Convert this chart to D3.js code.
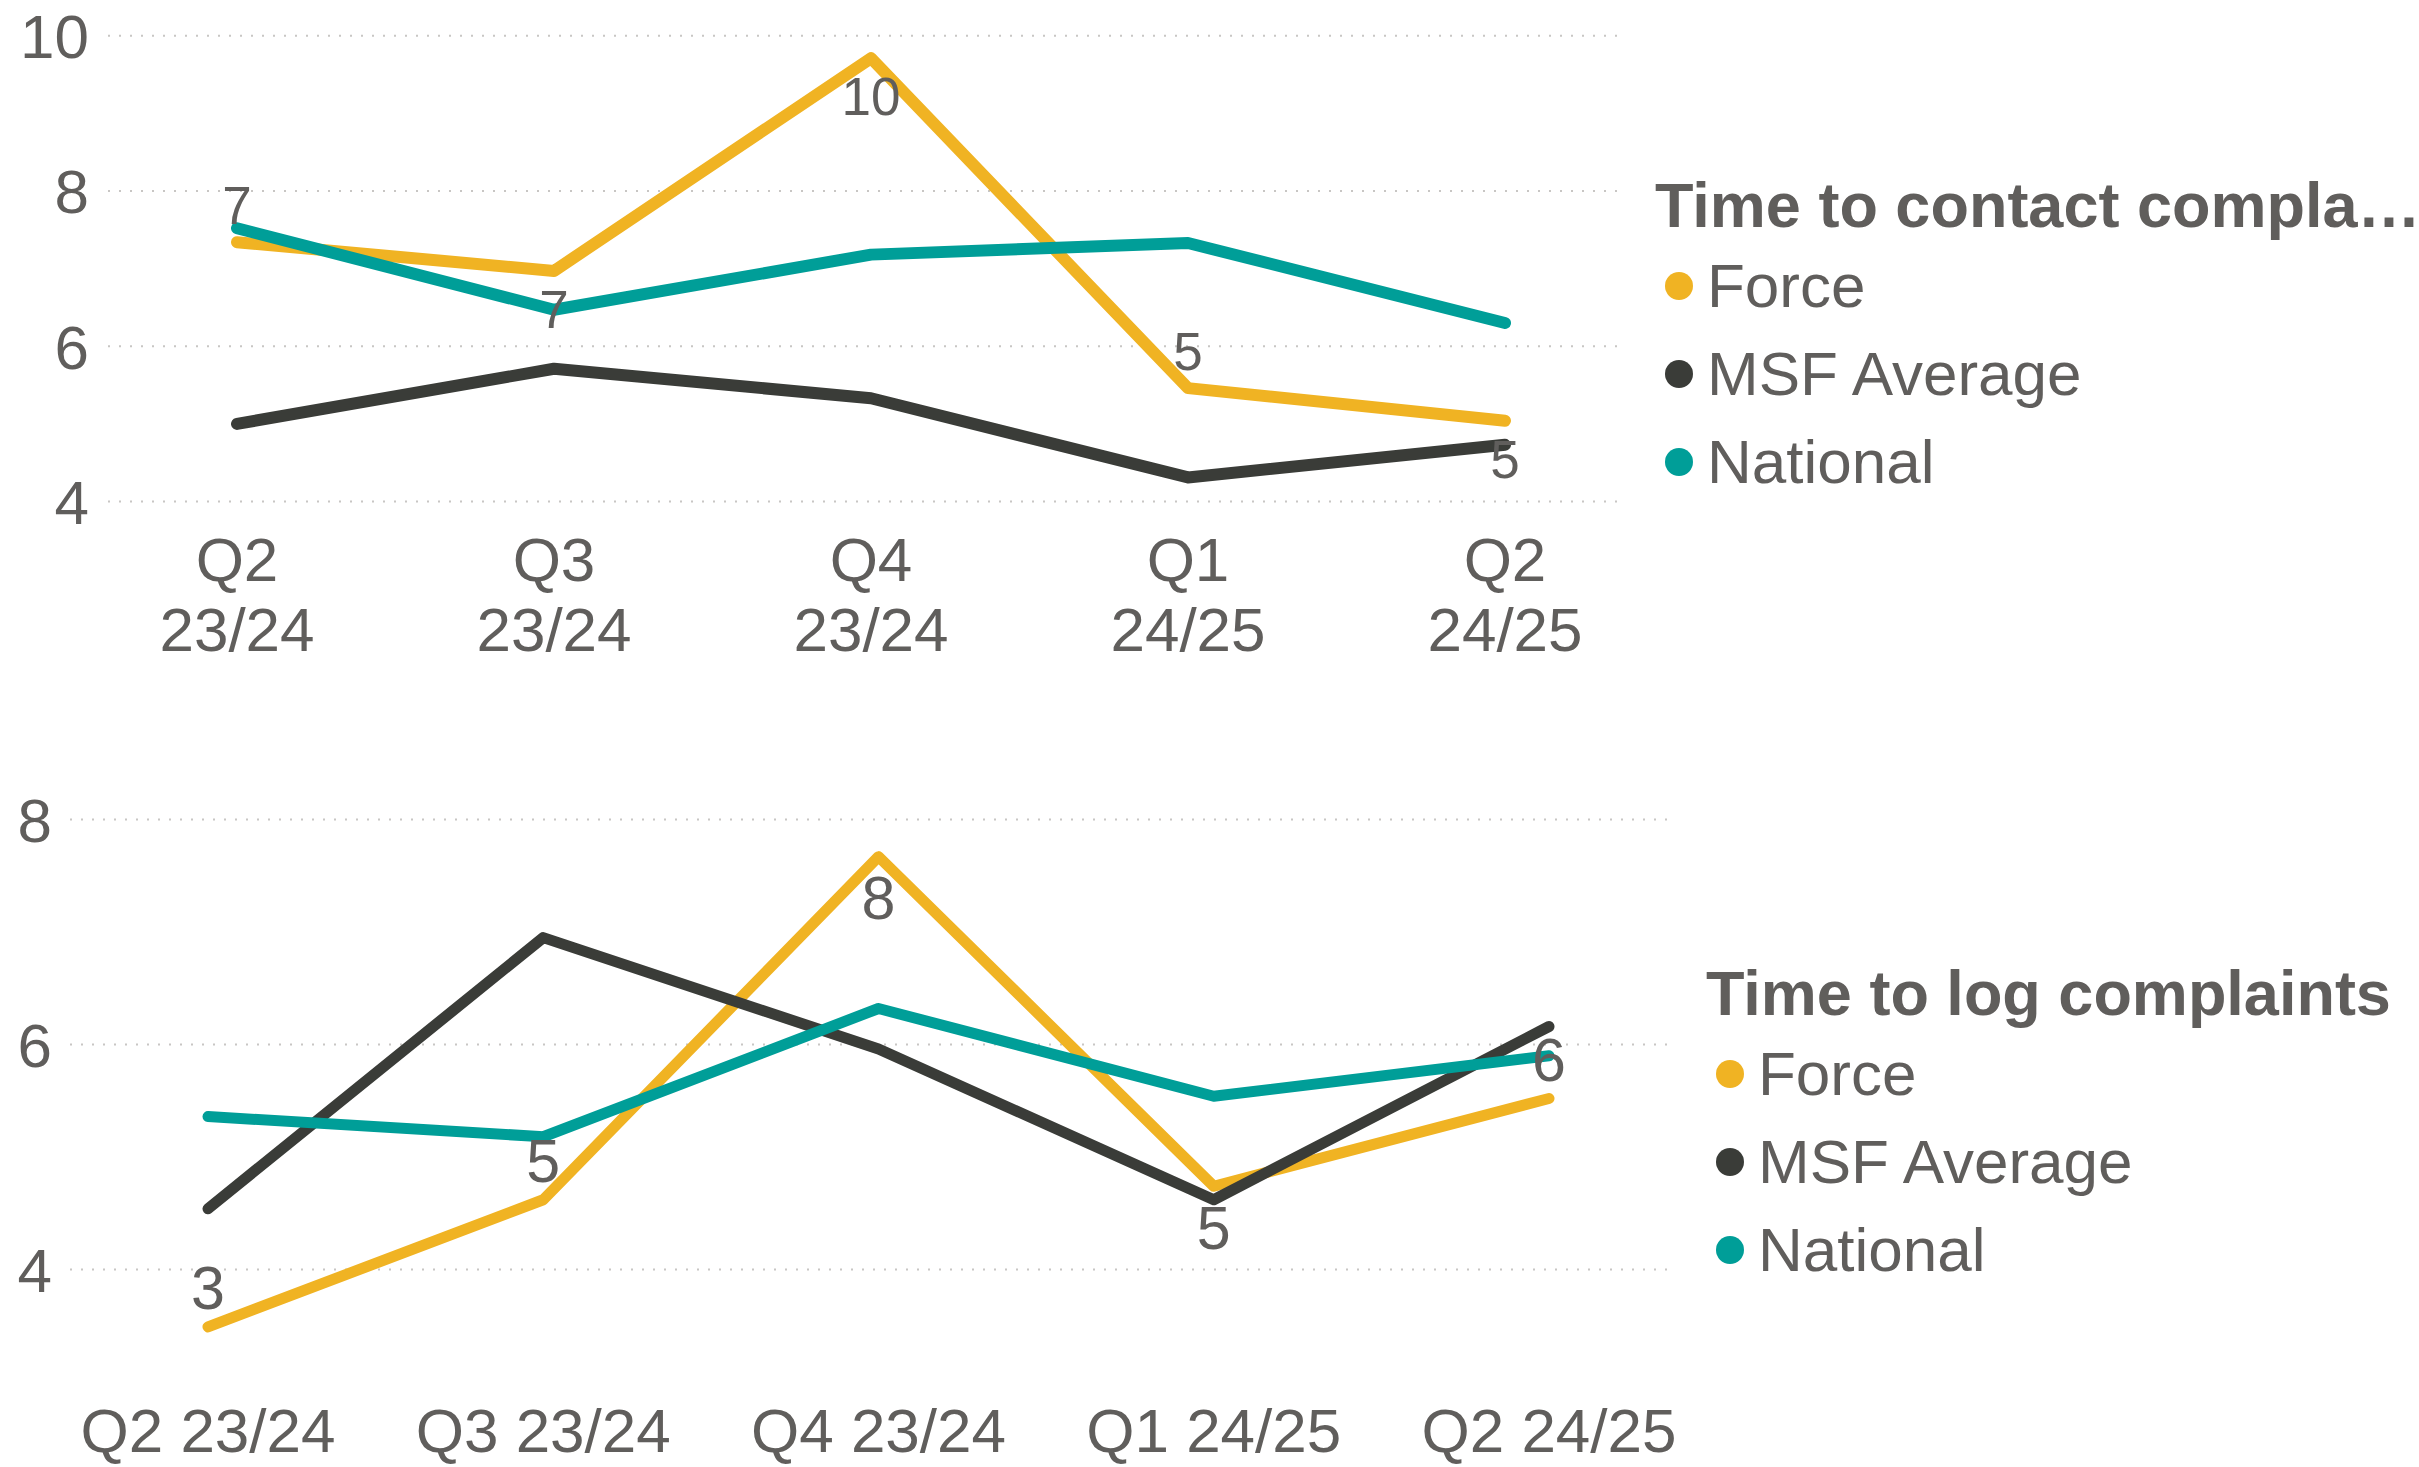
<!DOCTYPE html>
<html>
<head>
<meta charset="utf-8">
<script src="https://cdn.jsdelivr.net/npm/d3@7"></script>
<style>
  body { margin: 0; background: #ffffff; }
  svg { display: block; font-family: "Liberation Sans", Arial, sans-serif; }
  .tick-label { fill: #605e5c; font-size: 62px; }
  .data-label { fill: #605e5c; }
  .legend-title { fill: #605e5c; font-size: 63px; font-weight: bold; }
  .legend-item { fill: #605e5c; font-size: 62px; }
  .grid { stroke: #c8c6c4; stroke-width: 2; stroke-dasharray: 2,9; }
</style>
</head>
<body>
<div id="chart"></div>
<script>
// quarters on the x axis
var quarters = ["Q2 23/24", "Q3 23/24", "Q4 23/24", "Q1 24/25", "Q2 24/25"];
var seriesNames = ["Force", "MSF Average", "National"];
var seriesColors = ["#f0b323", "#3a3c38", "#009e98"];

// Time to contact complainants (days)
var contactForce = [7.34, 6.97, 9.71, 5.46, 5.04];
var contactMsf = [5.00, 5.71, 5.33, 4.31, 4.73];
var contactNational = [7.52, 6.47, 7.18, 7.33, 6.30];
var contactTicks = [4, 6, 8, 10];
var contactLabelSide = ["above", "below", "below", "above", "below"];

// Time to log complaints (days)
var logForce = [3.49, 4.62, 7.67, 4.74, 5.52];
var logMsf = [4.54, 6.95, 5.96, 4.62, 6.16];
var logNational = [5.36, 5.18, 6.32, 5.54, 5.90];
var logTicks = [4, 6, 8];
var logLabelSide = ["above", "above", "below", "below", "above"];

var W = 2419, H = 1467;

var svg = d3.select("#chart").append("svg")
    .attr("width", W)
    .attr("height", H);

svg.append("rect").attr("width", W).attr("height", H).attr("fill", "#ffffff");

/**
 * Draws one small line chart with its legend.
 */
function drawChart(cfg) {
    var g = svg.append("g");

    var x = d3.scalePoint().domain(quarters).range(cfg.xRange);
    var y = d3.scaleLinear().domain(cfg.yDomain).range(cfg.yRange);

    // dotted gridlines
    g.selectAll("line.grid").data(cfg.ticks)
        .enter().append("line")
        .attr("class", "grid")
        .attr("x1", cfg.gridX[0])
        .attr("x2", cfg.gridX[1])
        .attr("y1", function (d) { return y(d); })
        .attr("y2", function (d) { return y(d); });

    // y tick labels
    g.selectAll("text.ytick").data(cfg.ticks)
        .enter().append("text")
        .attr("class", "tick-label ytick")
        .attr("x", cfg.yLabelX)
        .attr("y", function (d) { return y(d); })
        .attr("dy", "0.36em")
        .attr("text-anchor", "end")
        .text(function (d) { return d; });

    // x tick labels (wrapped on two lines in the top chart)
    var xl = g.selectAll("text.xtick").data(quarters)
        .enter().append("text")
        .attr("class", "tick-label xtick")
        .attr("text-anchor", "middle")
        .attr("x", function (d) { return x(d); })
        .attr("y", cfg.xLabelY);
    if (cfg.wrap) {
        xl.each(function (d) {
            var parts = d.split(" ");
            var t = d3.select(this);
            t.append("tspan").attr("x", x(d)).text(parts[0]);
            t.append("tspan").attr("x", x(d)).attr("dy", cfg.lineGap).text(parts[1]);
        });
    } else {
        xl.text(function (d) { return d; });
    }

    // lines
    var line = d3.line()
        .x(function (d, i) { return x(quarters[i]); })
        .y(function (d) { return y(d); });

    g.selectAll("path.series").data(cfg.series)
        .enter().append("path")
        .attr("class", "series")
        .attr("d", function (d) { return line(d); })
        .attr("fill", "none")
        .attr("stroke", function (d, i) { return seriesColors[i]; })
        .attr("stroke-width", cfg.lineWidth)
        .attr("stroke-linecap", "round")
        .attr("stroke-linejoin", "round");

    // data labels for Force
    var fs = cfg.labelSize;
    g.selectAll("text.data-label").data(cfg.series[0])
        .enter().append("text")
        .attr("class", "data-label")
        .attr("font-size", fs)
        .attr("text-anchor", "middle")
        .attr("x", function (d, i) { return x(quarters[i]); })
        .attr("y", function (d, i) {
            return cfg.labelSide[i] == "above" ? y(d) - 18 : y(d) + 19 + fs * 0.716;
        })
        .text(function (d) { return Math.round(d); });

    // legend
    var lg = svg.append("g").attr("transform", "translate(" + cfg.legendX + "," + cfg.legendY + ")");
    lg.append("text")
        .attr("class", "legend-title")
        .attr("x", 0)
        .attr("y", 0)
        .text(cfg.title);

    var items = lg.selectAll("g.item").data(seriesNames)
        .enter().append("g")
        .attr("class", "item")
        .attr("transform", function (d, i) { return "translate(0," + (80 + i * 88) + ")"; });
    items.append("circle")
        .attr("cx", 24)
        .attr("cy", -21)
        .attr("r", 14)
        .attr("fill", function (d, i) { return seriesColors[i]; });
    items.append("text")
        .attr("class", "legend-item")
        .attr("x", 52)
        .attr("y", 0)
        .text(function (d) { return d; });
}

drawChart({
    series: [contactForce, contactMsf, contactNational],
    ticks: contactTicks,
    labelSide: contactLabelSide,
    yDomain: [4, 10],
    yRange: [501.5, 35.7],
    xRange: [237, 1505],
    gridX: [108, 1621],
    yLabelX: 89,
    xLabelY: 581,
    wrap: true,
    lineGap: 70,
    lineWidth: 12,
    labelSize: 53,
    title: "Time to contact compla\u2026",
    legendX: 1655,
    legendY: 227
});

drawChart({
    series: [logForce, logMsf, logNational],
    ticks: logTicks,
    labelSide: logLabelSide,
    yDomain: [4, 8],
    yRange: [1269.5, 819.5],
    xRange: [208, 1549],
    gridX: [70, 1676],
    yLabelX: 52,
    xLabelY: 1452,
    wrap: false,
    lineGap: 0,
    lineWidth: 11,
    labelSize: 61,
    title: "Time to log complaints",
    legendX: 1706,
    legendY: 1015
});
</script>
</body>
</html>
